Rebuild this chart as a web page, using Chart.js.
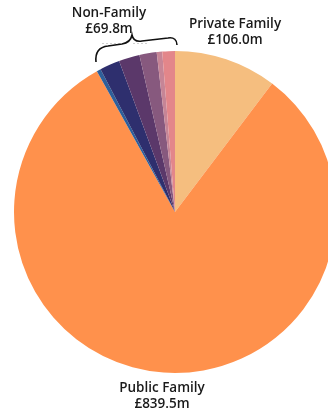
<!DOCTYPE html>
<html>
<head>
<meta charset="utf-8">
<script src="https://cdn.jsdelivr.net/npm/chart.js@4"></script>
<style>
html,body{margin:0;padding:0;background:#fff;overflow:hidden;width:328px;height:410px;}
#wrap{position:absolute;left:0;top:0;width:350px;height:410px;}
</style>
</head>
<body>
<div id="wrap"><canvas id="c"></canvas></div>
<script>
const categories = ["Private Family","Public Family","Non-Family 1","Non-Family 2","Non-Family 3","Non-Family 4","Non-Family 5","Non-Family 6"];
const values = [106.0, 839.5, 4.2, 20.7, 21.5, 17.8, 5.7, 13.0];
const colors = ["#F5BE7F","#FF914C","#2E5F9A","#2E2F6E","#5B386A","#87597E","#C68596","#E3868A"];
const groupLabels = [
  {name:"Private Family", value:"£106.0m", x:235, y:28},
  {name:"Non-Family", value:"£69.8m", x:109, y:17},
  {name:"Public Family", value:"£839.5m", x:162, y:392}
];

const labelPlugin = {
  id:'labels',
  afterDraw(chart){
    const ctx = chart.ctx;
    ctx.save();
    ctx.fillStyle = '#1a1a1a';
    ctx.textAlign = 'center';
    ctx.textBaseline = 'alphabetic';
    ctx.font = '600 13.5px "Open Sans", sans-serif';
    groupLabels.forEach(l=>{
      ctx.fillText(l.name, l.x, l.y);
      ctx.fillText(l.value, l.x, l.y+16);
    });
    // faint dotted guide
    ctx.strokeStyle = '#d0d0d0';
    ctx.lineWidth = 1;
    ctx.setLineDash([2,2]);
    ctx.beginPath();
    ctx.moveTo(102,43.5); ctx.lineTo(120,43.5);
    ctx.moveTo(133,43.5); ctx.lineTo(148,43.5);
    ctx.stroke();
    ctx.setLineDash([]);
    // curly brace
    ctx.strokeStyle = '#111';
    ctx.lineWidth = 1.6;
    ctx.beginPath();
    ctx.moveTo(96,62);
    ctx.bezierCurveTo(95,52, 99,47, 108,46);
    ctx.lineTo(122,44);
    ctx.bezierCurveTo(128,43, 131,40, 132,35);
    ctx.bezierCurveTo(133,40, 136,42, 142,41);
    ctx.lineTo(168,38);
    ctx.bezierCurveTo(174,37, 177,40, 177,45);
    ctx.stroke();
    ctx.restore();
  }
};

new Chart(document.getElementById('c'), {
  type:'pie',
  data:{
    labels:categories,
    datasets:[{data:values, backgroundColor:colors, borderWidth:0, hoverOffset:0}]
  },
  options:{
    responsive:true,
    maintainAspectRatio:false,
    animation:false,
    layout:{padding:{top:51,bottom:37,left:0,right:0}},
    plugins:{legend:{display:false},tooltip:{enabled:false}},
    events:[]
  },
  plugins:[labelPlugin]
});
</script>
</body>
</html>
